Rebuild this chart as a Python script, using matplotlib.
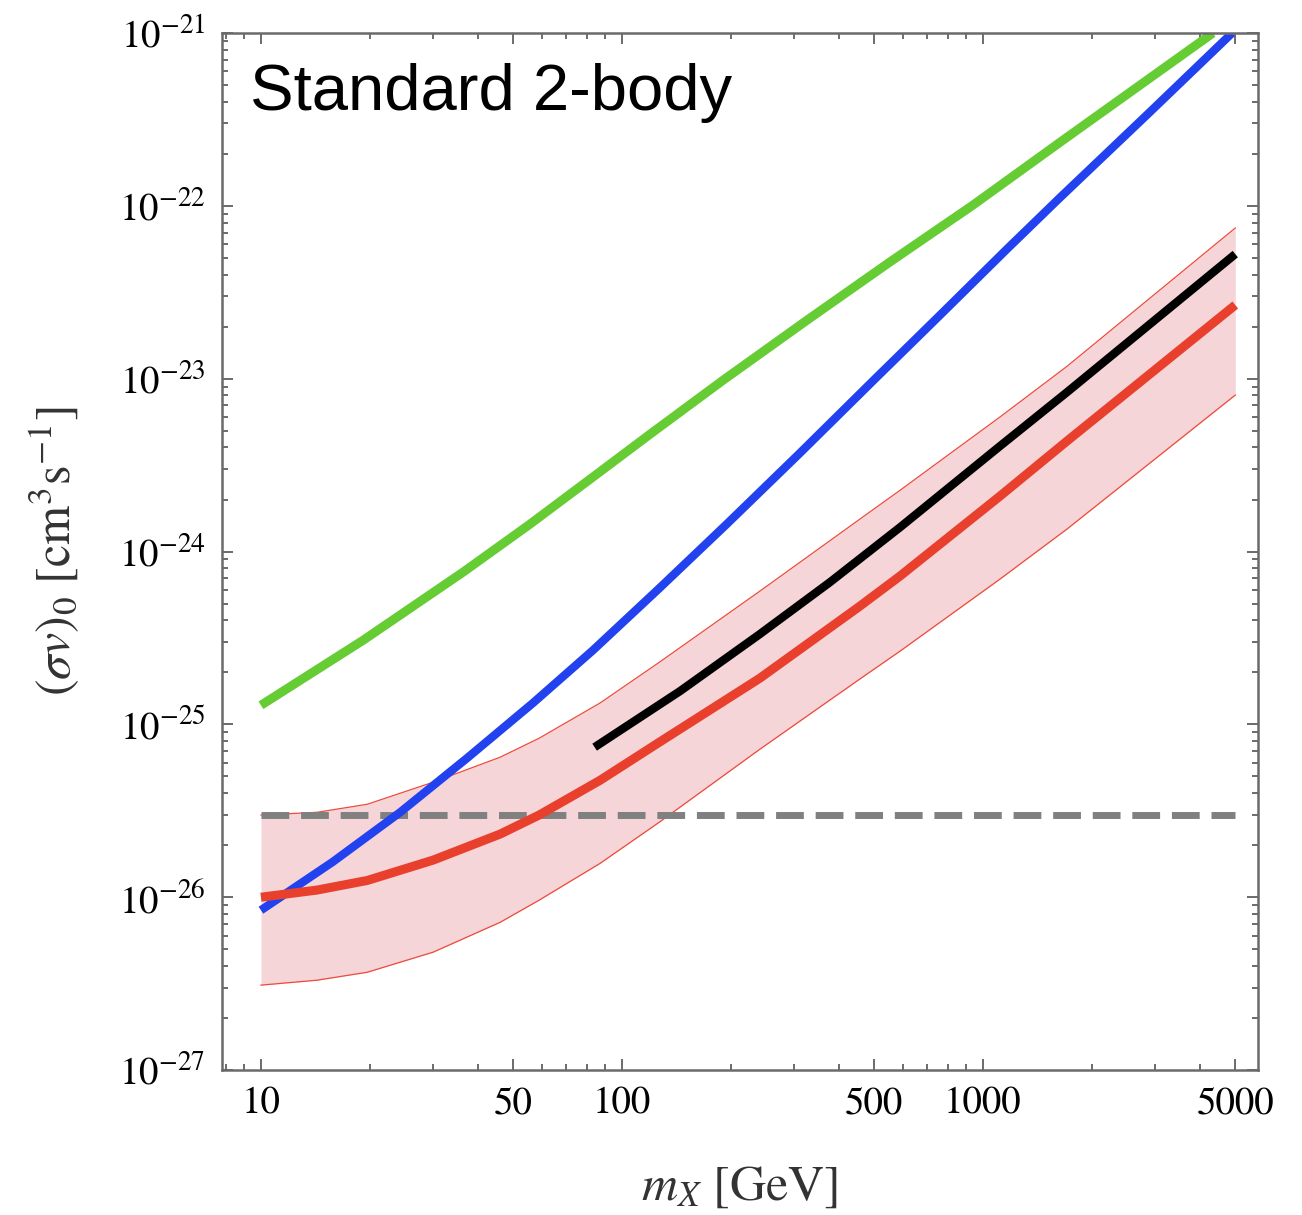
import matplotlib
matplotlib.use("Agg")
from matplotlib import pyplot as plt
from matplotlib.ticker import FixedLocator, FuncFormatter, LogLocator, LogFormatterMathtext, NullFormatter

# annihilation cross-section limits vs dark matter mass
green_mass = [10, 19.2, 36.3, 55.6, 85.3, 119.7, 190.6, 325.5, 552, 938, 1666, 4335]
green_sv = [1.29e-25, 3.07e-25, 7.60e-25, 1.44e-24, 2.81e-24, 4.78e-24,
            9.80e-24, 2.18e-23, 4.73e-23, 1.01e-22, 2.40e-22, 1.0e-21]

blue_mass = [10, 15.8, 24.3, 37.2, 56.7, 83.2, 127, 195, 311, 495, 760, 1165, 1630, 2900, 4900]
blue_sv = [8.41e-27, 1.60e-26, 3.10e-26, 6.37e-26, 1.33e-25, 2.69e-25, 6.14e-25,
           1.44e-24, 3.71e-24, 9.68e-24, 2.33e-23, 5.62e-23, 1.11e-22, 3.49e-22, 1.0e-21]

band_mass = [10, 14.3, 19.7, 30, 46, 59, 87, 127, 241, 456, 589, 1114, 1710, 5000]
red_sv = [1.00e-26, 1.10e-26, 1.25e-26, 1.64e-26, 2.32e-26, 2.99e-26, 4.75e-26,
          7.89e-26, 1.85e-25, 4.83e-25, 7.21e-25, 2.09e-24, 4.36e-24, 2.67e-23]
band_hi = [2.99e-26, 3.10e-26, 3.45e-26, 4.63e-26, 6.46e-26, 8.32e-26, 1.33e-25,
           2.29e-25, 5.90e-25, 1.54e-24, 2.26e-24, 6.00e-24, 1.18e-23, 7.45e-23]
band_lo = [3.10e-27, 3.31e-27, 3.68e-27, 4.81e-27, 7.16e-27, 9.62e-27, 1.57e-26,
           2.72e-26, 7.18e-26, 1.83e-25, 2.65e-25, 6.92e-25, 1.35e-24, 8.04e-24]

black_mass = [84, 145, 241, 377, 589, 1114, 1710, 5000]
black_sv = [7.38e-26, 1.56e-25, 3.33e-25, 6.65e-25, 1.38e-24, 4.07e-24, 8.36e-24, 5.26e-23]

thermal_mass = [10, 5000]
thermal_sv = [3.0e-26, 3.0e-26]

x_major = [10, 50, 100, 500, 1000, 5000]
x_minor = [8, 9, 20, 30, 40, 60, 70, 80, 90, 200, 300, 400, 600, 700, 800, 900,
           2000, 3000, 4000]

plt.rcParams['font.family'] = ['STIXGeneral', 'DejaVu Serif']
plt.rcParams['mathtext.fontset'] = 'stix'

fig = plt.figure(figsize=(13.02, 12.15), dpi=100)
ax = fig.add_axes([0.1705, 0.1193, 0.7957, 0.8535])

ax.fill_between(band_mass, band_lo, band_hi, color='#f6d5d9', lw=0)
ax.plot(band_mass, band_hi, color='#ee4a3a', lw=0.9)
ax.plot(band_mass, band_lo, color='#ee4a3a', lw=0.9)

ax.plot(thermal_mass, thermal_sv, color='#808080', lw=5, dashes=(4.0, 1.7),
        solid_capstyle='butt')
ax.plot(green_mass, green_sv, color='#66cc33', lw=6.5, solid_capstyle='butt')
ax.plot(blue_mass, blue_sv, color='#2242f0', lw=6, solid_capstyle='butt')
ax.plot(band_mass, red_sv, color='#e8402c', lw=6.5, solid_capstyle='butt')
ax.plot(black_mass, black_sv, color='black', lw=6, solid_capstyle='butt')

ax.set_xscale('log')
ax.set_yscale('log')
ax.set_xlim(7.8, 5780)
ax.set_ylim(1e-27, 1e-21)

ax.xaxis.set_major_locator(FixedLocator(x_major))
ax.xaxis.set_minor_locator(FixedLocator(x_minor))
ax.xaxis.set_major_formatter(FuncFormatter(lambda v, p: f"{v:.0f}"))
ax.xaxis.set_minor_formatter(NullFormatter())
ax.yaxis.set_major_locator(FixedLocator([1e-27, 1e-26, 1e-25, 1e-24, 1e-23, 1e-22, 1e-21]))
ax.yaxis.set_minor_locator(LogLocator(base=10, subs=range(2, 10), numticks=20))
ax.yaxis.set_major_formatter(LogFormatterMathtext())
ax.yaxis.set_minor_formatter(NullFormatter())

ax.tick_params(which='both', direction='in', top=True, right=True,
               color='#444444', width=1.1)
ax.tick_params(which='major', length=8, labelsize=28, pad=12)
ax.tick_params(which='minor', length=4)
ax.tick_params(axis='y', which='major', pad=12)

for s in ax.spines.values():
    s.set_color('#6a6a6a')
    s.set_linewidth(1.8)

ax.set_xlabel(r'$m_X\ [\mathrm{GeV}]$', fontsize=36, color='#333333')
ax.set_ylabel(r'$(\sigma v)_0\ [\mathrm{cm}^3\mathrm{s}^{-1}]$', fontsize=36, color='#333333')
ax.xaxis.set_label_coords(0.5, -0.092)
ax.yaxis.set_label_coords(-0.135, 0.5)

ax.text(0.027, 0.9257, 'Standard 2-body', transform=ax.transAxes,
        fontsize=47, family='Liberation Sans', va='baseline', ha='left')

fig.savefig('out.png', dpi=100)
